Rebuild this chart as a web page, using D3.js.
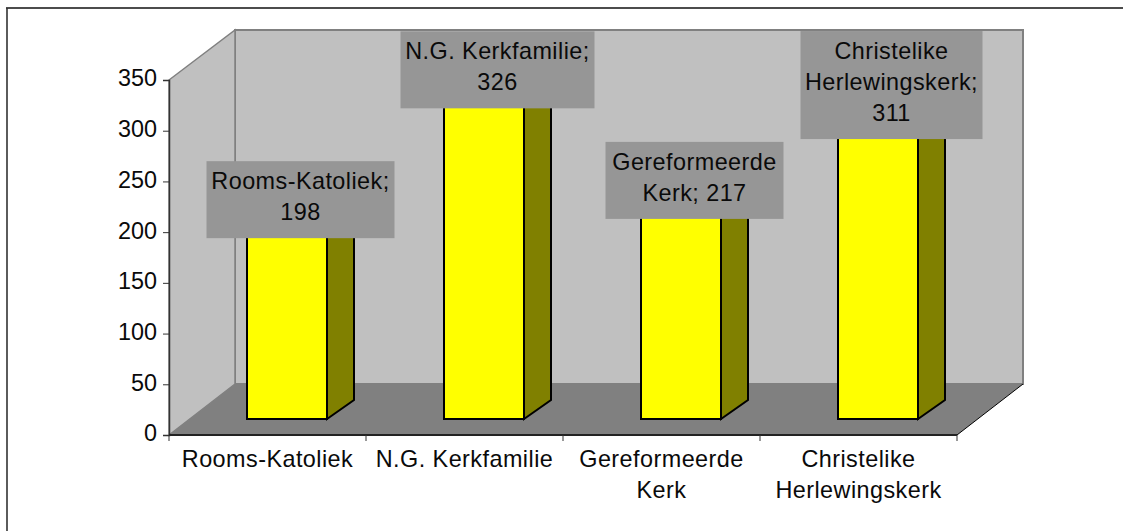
<!DOCTYPE html>
<html><head><meta charset="utf-8">
<script src="https://cdn.jsdelivr.net/npm/d3@7"></script>
<style>html,body{margin:0;padding:0;background:#fff}svg{display:block}text{font-family:"Liberation Sans",Arial,sans-serif;font-size:23.4px;letter-spacing:0.45px;fill:#0a0a0a}</style>
</head><body><div id="c"></div>
<script>
const categories = ["Rooms-Katoliek","N.G. Kerkfamilie","Gereformeerde Kerk","Christelike Herlewingskerk"];
const categoryLines = [["Rooms-Katoliek"],["N.G. Kerkfamilie"],["Gereformeerde","Kerk"],["Christelike","Herlewingskerk"]];
const values = [198,326,217,311];
const labelLines = [["Rooms-Katoliek;","198"],["N.G. Kerkfamilie;","326"],["Gereformeerde","Kerk; 217"],["Christelike","Herlewingskerk;","311"]];
const yTicks = [0,50,100,150,200,250,300,350];

const W=1123,H=531;
const svg=d3.select("#c").append("svg").attr("width",W).attr("height",H);
const y=d3.scaleLinear().domain([0,350]).range([435,80]);
const x=d3.scaleBand().domain(categories).range([169,957]).paddingInner(0).paddingOuter(0);
const dx=66, dy=-51;
const barW=80, barDx=27, barDy=-19, floorLift=16;

// chart frame: only top and left edges show
svg.append("line").attr("x1",6).attr("x2",W).attr("y1",8).attr("y2",8).attr("stroke","#111").attr("stroke-width",1.6);
svg.append("line").attr("x1",7).attr("x2",7).attr("y1",8).attr("y2",H).attr("stroke","#333").attr("stroke-width",1.6);

const poly=(pts,fill,stroke,sw)=>svg.append("polygon").attr("points",pts.map(p=>p.join(",")).join(" ")).attr("fill",fill).attr("stroke",stroke||"none").attr("stroke-width",sw||0);
const L=x.range()[0], R=x.range()[1], B=y(0), T=y(350), wallTop=T+dy+1;
// back wall, side wall, floor
poly([[L+dx,wallTop],[R+dx,wallTop],[R+dx,B+dy],[L+dx,B+dy]],"#c0c0c0","#808080",2);
poly([[L,T],[L+dx,wallTop],[L+dx,B+dy],[L,B]],"#c0c0c0","#808080",1.5);
poly([[L,B],[L+dx,B+dy],[R+dx,B+dy],[R,B]],"#808080");
svg.append("line").attr("x1",R).attr("y1",B).attr("x2",R+dx).attr("y2",B+dy).attr("stroke","#000").attr("stroke-width",1);

// axes
const yAxis=svg.append("g").attr("transform",`translate(${L},0)`).call(d3.axisLeft(y).tickValues(yTicks).tickSize(6).tickPadding(6));
yAxis.select(".domain").attr("stroke","#333").attr("stroke-width",1.5);
yAxis.selectAll(".tick line").attr("stroke","#333");
yAxis.selectAll("text").attr("dy","0.25em").style("font-size","23.4px").style("font-family",'"Liberation Sans",Arial,sans-serif').style("letter-spacing","0");
const xEdges=d3.range(categories.length+1).map(i=>L+i*x.step());
svg.append("line").attr("x1",L).attr("x2",R).attr("y1",B).attr("y2",B).attr("stroke","#222").attr("stroke-width",2);
svg.selectAll(".xt").data(xEdges).join("line").attr("x1",d=>d).attr("x2",d=>d).attr("y1",B).attr("y2",B+6).attr("stroke","#333");

// bars
categories.forEach((c,i)=>{
  const x0=x(c)+78, base=B-floorLift, top=base-(y(0)-y(values[i]));
  poly([[x0+barW,base],[x0+barW+barDx,base+barDy],[x0+barW+barDx,top+barDy],[x0+barW,top]],"#808000","#000",2);
  poly([[x0,top],[x0+barW,top],[x0+barW+barDx,top+barDy],[x0+barDx,top+barDy]],"#b3b300","#000",2);
  poly([[x0,base],[x0+barW,base],[x0+barW,top],[x0,top]],"#ffff00","#000",2);
});

// axis category labels
categoryLines.forEach((ls,i)=>{
  const cx=x(categories[i])+x.bandwidth()/2;
  ls.forEach((t,j)=>svg.append("text").attr("x",cx).attr("y",467+j*31).attr("text-anchor","middle").text(t));
});

// data labels
const boxW=[188,194,178,182];
categoryLines.forEach((_,i)=>{
  const c=categories[i], cx=x(c)+78+(barW+barDx)/2, base=B-floorLift;
  const cy=base-(y(0)-y(values[i]))+barDy+0.5;
  const ls=labelLines[i], h=ls.length===3?108:77;
  svg.append("rect").attr("x",cx-boxW[i]/2).attr("y",cy-h/2).attr("width",boxW[i]).attr("height",h).attr("fill","#969696");
  ls.forEach((t,j)=>svg.append("text").attr("x",cx).attr("y",cy-h/2+28+j*31).attr("text-anchor","middle").text(t));
});
</script></body></html>
